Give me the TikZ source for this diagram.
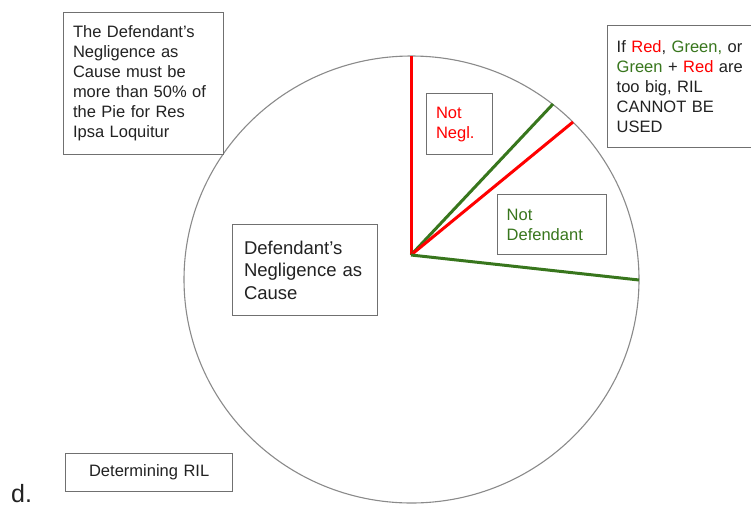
\documentclass[tikz,border=0pt]{standalone}
\usepackage{fontspec}
\setmainfont{Liberation Sans}
\definecolor{gred}{HTML}{FF0000}
\definecolor{ggreen}{HTML}{38761D}
\definecolor{gborder}{HTML}{707070}
\definecolor{gcircle}{HTML}{8A8A8A}
\definecolor{gtext}{HTML}{222222}
\begin{document}
\begin{tikzpicture}[x=1pt,y=-1pt,
  box/.style={draw=gborder, line width=1pt, fill=white, anchor=north west,
    inner xsep=9.5pt, inner ysep=0pt, align=left, text=gtext,
    font=\fontsize{16.5}{20}\selectfont},
  pieline/.style={line width=3pt},
]
\useasboundingbox (0,0) rectangle (751,506);
\clip (0,0) rectangle (751,506);

% pie outline
\draw[gcircle, line width=1.1pt] (411.5,279.5) ellipse [x radius=227.5, y radius=223.5];

% pie centre and rim points
\coordinate (c) at (411,255);
\coordinate (rtop) at (411,56);
\coordinate (gupper) at (553,104);
\coordinate (rlower) at (573,122);
\coordinate (gright) at (639,280);

\draw[pieline, gred] (c) -- (rtop);
\draw[pieline, ggreen] (c) -- (gupper);
\draw[pieline, gred] (c) -- (rlower);
\draw[pieline, ggreen] (c) -- (gright);

% boxes
\node[box, minimum width=159.7pt, minimum height=142pt, text width=140.7pt] (rule) at (63,12)
  {The Defendant's\\Negligence as\\Cause must be\\more than 50\% of\\the Pie for Res\\Ipsa Loquitur};

\node[box, minimum width=146pt, minimum height=122pt, text width=127pt] (warn) at (606.7,25)
  {If \textcolor{gred}{Red}, \textcolor{ggreen}{Green,} or\\\textcolor{ggreen}{Green} + \textcolor{gred}{Red} are\\too big, RIL\\CANNOT BE\\USED};

\node[box, minimum width=65.7pt, minimum height=61pt, text width=46.7pt, text=gred] (notnegl) at (426,93.3)
  {Not\\Negl.};

\node[box, minimum width=109.3pt, minimum height=60pt, text width=90.3pt, text=ggreen] (notdef) at (496.7,194)
  {Not\\Defendant};

\node[box, minimum width=144.4pt, minimum height=91pt, inner xsep=11.2pt, text width=122pt,
  font=\fontsize{18.5}{22.5}\selectfont] (defneg) at (232.3,224)
  {Defendant's\\Negligence as\\Cause};

\node[box, minimum width=167.3pt, minimum height=38.3pt, inner xsep=0pt, text width=167.3pt, align=center] (ril) at (65,452.7)
  {Determining RIL};

\node[anchor=base west, inner sep=0pt, text=gtext, font=\fontsize{25}{30}\selectfont] (dlabel) at (11,502.5) {d.};
\end{tikzpicture}
\end{document}
